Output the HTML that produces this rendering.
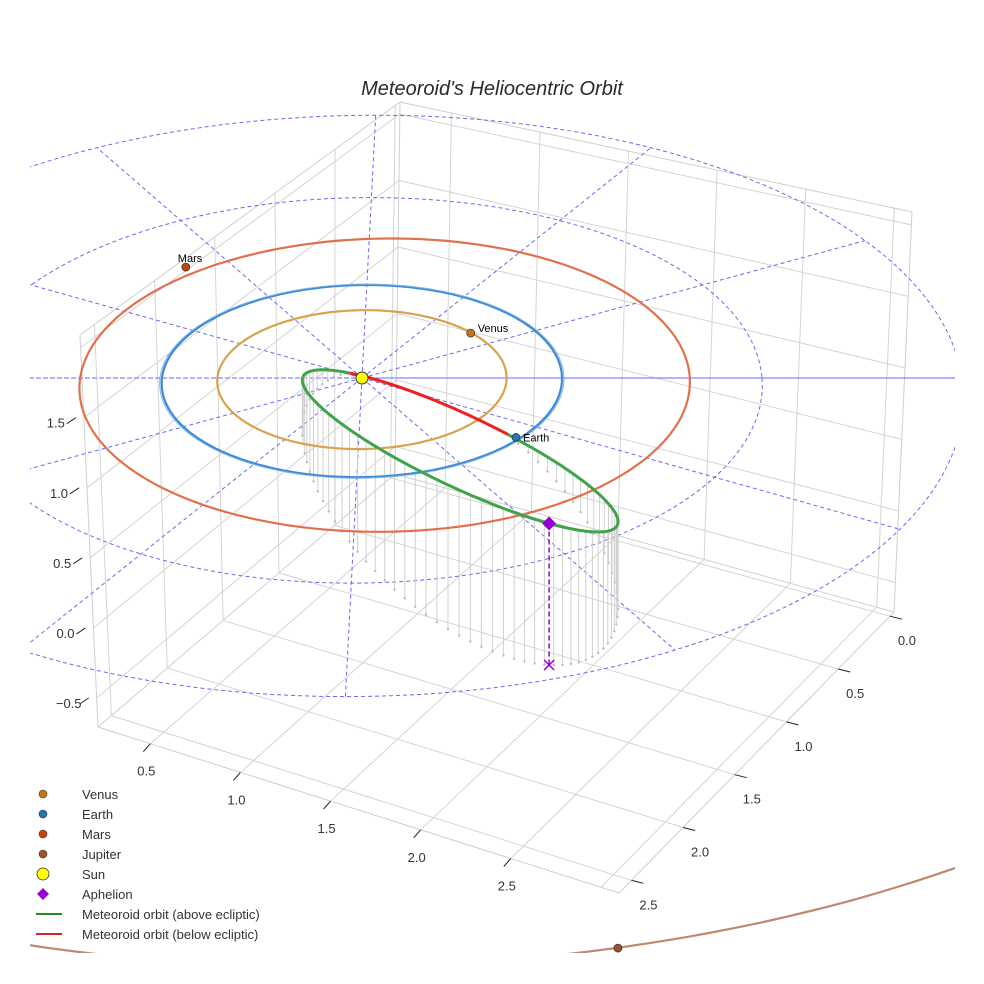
<!DOCTYPE html>
<html><head><meta charset="utf-8"><style>
html,body{margin:0;padding:0;background:#fff;}
svg{display:block;font-family:"Liberation Sans",sans-serif;}
</style></head><body>
<svg id="chart" width="984" height="984" viewBox="0 0 984 984" xmlns="http://www.w3.org/2000/svg">
<defs><clipPath id="clip"><rect x="30" y="0" width="925" height="953"/></clipPath></defs>
<rect width="984" height="984" fill="#fff"/>
<text x="492" y="95" text-anchor="middle" font-size="20" font-style="italic" fill="#2a2a2a">Meteoroid's Heliocentric Orbit</text>
<g id="box"></g>
<g id="ecl" clip-path="url(#clip)"></g>
<g id="legend"></g>
</svg>
<script>
// ---- data ----
const planetNames = ["Venus","Earth","Mars","Jupiter"];
const planetOrbitRadius = [0.723, 1.0, 1.524, 5.13];
const planetOrbitCenterX = [0, 0, 0.115, 0];
const planetX = [0.54, 0.77, -0.945, 1.2];
const planetY = [-0.475, 0.607, -1.2, 4.99];
const planetColors = ["#c47a12","#1f77b4","#c8440f","#a0522d"];
const orbitColors = ["#d8a24e","#3f8ad6","#e0714c","#bd8a70"];
const gridRadii = [1, 2, 3];
const gridAngles = [0,30,60,90,120,150,180,210,240,270,300,330];
const meteorCenter = [0.48, 0.72];
const meteorMajor = [0.775, 0.735];
const meteorMinor = [-0.065, 0.33];
const meteorInclDeg = 61;
const aphelionT = 50;
const uTicks = [0.0,0.5,1.0,1.5,2.0,2.5];
const wTicks = [0.5,1.0,1.5,2.0,2.5];
const wGrid = [0.5,1.0,1.5,2.0,2.5,3.0];
const zTicks = [-0.5,0.0,0.5,1.0,1.5];
const zGrid = [-0.5,0.0,0.5,1.0,1.5,2.0];
const legendLabels = ["Venus","Earth","Mars","Jupiter","Sun","Aphelion","Meteoroid orbit (above ecliptic)","Meteoroid orbit (below ecliptic)"];

const NS="http://www.w3.org/2000/svg";
function mk(tag, attrs, parent){const e=document.createElementNS(NS,tag);for(const k in attrs)e.setAttribute(k,attrs[k]);parent.appendChild(e);return e;}

// ---- box projection ----
const B=[395,474],L=[98,727],R=[894,612],F=[619,893];
const Bt=[400,102],Lt=[80,335],Rt=[912,212],Ft=[592,445];
const uMin=-0.04,uMax=2.62,wMin=0.21,wMax=3.1,zMin=-0.707,zMax=2.09;
function bil(P0,P1,P2,P3,s,t){return [P0[0]*(1-s)*(1-t)+P1[0]*s*(1-t)+P2[0]*(1-s)*t+P3[0]*s*t, P0[1]*(1-s)*(1-t)+P1[1]*s*(1-t)+P2[1]*(1-s)*t+P3[1]*s*t];}
function box(u,w,z){const s=(u-uMin)/(uMax-uMin),t=(w-wMin)/(wMax-wMin),h=(z-zMin)/(zMax-zMin);
 const a=bil(B,L,R,F,s,t),b=bil(Bt,Lt,Rt,Ft,s,t);return [a[0]+(b[0]-a[0])*h,a[1]+(b[1]-a[1])*h];}
const boxG=document.getElementById('box');
function bl(p,q,col,name,w){const e=mk('line',{x1:p[0].toFixed(1),y1:p[1].toFixed(1),x2:q[0].toFixed(1),y2:q[1].toFixed(1),stroke:col,'stroke-width':w||1},boxG);
 
 }
const gc="#d4d4d4";
uTicks.forEach(u=>bl(box(u,wMin,zMin),box(u,wMax,zMin),gc,'floor-gridline'));
wGrid.forEach(w=>bl(box(uMin,w,zMin),box(uMax,w,zMin),gc,'floor-gridline'));
uTicks.forEach(u=>bl(box(u,wMin,zMin),box(u,wMin,zMax),gc,'left-wall-gridline'));
zGrid.forEach(z=>bl(box(uMin,wMin,z),box(uMax,wMin,z),gc,'left-wall-gridline'));
wGrid.forEach(w=>bl(box(uMin,w,zMin),box(uMin,w,zMax),gc,'right-wall-gridline'));
zGrid.forEach(z=>bl(box(uMin,wMin,z),box(uMin,wMax,z),gc,'right-wall-gridline'));
[[box(uMin,wMin,zMin),box(uMin,wMin,zMax)],[box(uMax,wMin,zMin),box(uMax,wMin,zMax)],[box(uMin,wMax,zMin),box(uMin,wMax,zMax)],
 [box(uMin,wMin,zMax),box(uMax,wMin,zMax)],[box(uMin,wMin,zMax),box(uMin,wMax,zMax)],
 [box(uMax,wMin,zMin),box(uMax,wMax,zMin)],[box(uMin,wMax,zMin),box(uMax,wMax,zMin)],
 [box(uMin,wMin,zMin),box(uMax,wMin,zMin)],[box(uMin,wMin,zMin),box(uMin,wMax,zMin)]].forEach(e=>bl(e[0],e[1],"#cfcfcf",'box-edge'));
function tl(x,y,txt,name){const e=mk('text',{x:x.toFixed(1),y:y.toFixed(1),'text-anchor':'middle','font-size':13,fill:'#333'},boxG);e.textContent=txt;
 
 }
wTicks.forEach(w=>{const p=box(uMax,w,zMin);bl(p,[p[0]-7,p[1]+8],"#222",'left-axis-tick');tl(p[0]-4,p[1]+32,w.toFixed(1),'left-axis-tick-label');});
uTicks.forEach(u=>{const p=box(u,wMax,zMin);bl(p,[p[0]+12,p[1]+3],"#222",'right-axis-tick');tl(p[0]+17,p[1]+29,u.toFixed(1),'right-axis-tick-label');});
zTicks.forEach(z=>{const p=box(uMax,wMin,z);bl([p[0]-8,p[1]],[p[0]-17,p[1]+6],"#222",'z-axis-tick');tl(p[0]-28,p[1]+10,(z<0?"\u2212":"")+Math.abs(z).toFixed(1),'z-axis-tick-label');});

// ---- ecliptic projection ----
const eg=document.getElementById('ecl');
function ep(X,Y){const f=1/(1-0.032*Y);return [362+(200*X-5*Y)*f,378+96*Y*f];}
function pathFrom(pts){return pts.map((p,i)=>(i?'L':'M')+p[0].toFixed(1)+' '+p[1].toFixed(1)).join(' ');}
function circlePts(r,cx,minY){const a=[];for(let i=0;i<=360;i+=1){const t=i*Math.PI/180;const X=cx+r*Math.cos(t),Y=r*Math.sin(t);if(minY!==undefined&&Y<minY)continue;a.push(ep(X,Y));}return a;}
const dashCol="#6a6af0";
gridRadii.forEach(r=>{const e=mk('path',{d:pathFrom(circlePts(r,0)),fill:'none',stroke:dashCol,'stroke-width':1,'stroke-dasharray':'4,3'},eg);
 
 });
const rMax=gridRadii[gridRadii.length-1];
gridAngles.forEach(a=>{const t=a*Math.PI/180;const p=ep(0,0),q=ep(rMax*Math.cos(t),rMax*Math.sin(t));
 const e=mk('line',{x1:p[0],y1:p[1],x2:q[0].toFixed(1),y2:q[1].toFixed(1),stroke:dashCol,'stroke-width':1,'stroke-dasharray':'4,3'},eg);
 
 });
{const e=mk('line',{x1:30,y1:378,x2:955,y2:378,stroke:dashCol,'stroke-width':1,'stroke-dasharray':'4,3'},eg);
 
 }

// meteoroid orbit samples
const nx=planetX[1],ny=planetY[1],nl=Math.hypot(nx,ny);
const incl=Math.tan(meteorInclDeg*Math.PI/180), zPx=140;
function mpt(deg){const t=deg*Math.PI/180;return [meteorCenter[0]+Math.cos(t)*meteorMajor[0]+Math.sin(t)*meteorMinor[0], meteorCenter[1]+Math.cos(t)*meteorMajor[1]+Math.sin(t)*meteorMinor[1]];}
function mz(p){return -(p[0]*ny-p[1]*nx)/nl*incl;}
for(let d=-180;d<180;d+=4){const p=mpt(d),z=mz(p);if(z<=0.01)continue;const s=ep(p[0],p[1]);const L=z*zPx;
 const e=mk('line',{x1:s[0].toFixed(1),y1:s[1].toFixed(1),x2:s[0].toFixed(1),y2:(s[1]+L).toFixed(1),stroke:'#d0d0d0','stroke-width':1},eg);
 
 
 const c=mk('circle',{cx:s[0].toFixed(1),cy:(s[1]+L).toFixed(1),r:1.2,fill:'#bbb'},eg);
 
 }

// planet orbits
planetOrbitRadius.forEach((r,i)=>{const pts=circlePts(r,planetOrbitCenterX[i],planetNames[i]==="Jupiter"?1.5:undefined);
 const e=mk('path',{d:pathFrom(pts),fill:'none',stroke:orbitColors[i],'stroke-width':2.2},eg);
 
 });
{const e=mk('path',{d:pathFrom(circlePts(1.01,0)),fill:'none',stroke:'#7ab6e0','stroke-width':1},eg);
 
 }

// meteoroid orbit: green/red by sign of height
let seg=[],segSign=null;
function flush(){if(seg.length>1){const e=mk('path',{d:pathFrom(seg),fill:'none',stroke:segSign>0?'#3fa34a':'#ee2020','stroke-width':3},eg);
 
 }}
for(let d=-180;d<=180;d+=1){const p=mpt(d),sg=mz(p)>=0?1:-1,s=ep(p[0],p[1]);
 if(segSign!==null&&sg!==segSign){seg.push(s);flush();seg=[s];}else seg.push(s);segSign=sg;}
flush();

{const p=mpt(aphelionT),s=ep(p[0],p[1]),L=mz(p)*zPx;
 const dl=mk('line',{x1:s[0],y1:s[1],x2:s[0],y2:s[1]+L,stroke:'#9400d3','stroke-width':1.5,'stroke-dasharray':'5,3'},eg);
 
 
 const x=mk('path',{d:`M${s[0]-5} ${s[1]+L-5}L${s[0]+5} ${s[1]+L+5}M${s[0]-5} ${s[1]+L+5}L${s[0]+5} ${s[1]+L-5}`,stroke:'#9400d3','stroke-width':1.5},eg);
 
 
 const dm=mk('path',{d:`M${s[0]} ${s[1]-7}L${s[0]+7} ${s[1]}L${s[0]} ${s[1]+7}L${s[0]-7} ${s[1]}Z`,fill:'#9400d3'},eg);
 
 }

{const s=ep(0,0);const c=mk('circle',{cx:s[0],cy:s[1],r:6,fill:'#ffff00',stroke:'#333','stroke-width':1},eg);
 
 }

planetNames.forEach((n,i)=>{const s=ep(planetX[i],planetY[i]);
 const c=mk('circle',{cx:s[0].toFixed(1),cy:s[1].toFixed(1),r:4,fill:planetColors[i],stroke:'#333','stroke-width':0.7},eg);
 
 
 if(n!=="Jupiter"){const t=mk('text',{x:(n==="Mars"?s[0]-8:s[0]+7).toFixed(1),y:(n==="Mars"?s[1]-5:s[1]+(n==="Earth"?4:-1)).toFixed(1),'font-size':11,fill:'#000'},eg);t.textContent=n;
 
 }});

const lg=document.getElementById('legend');
const legendMarkers=["#c47a12","#1f77b4","#c8440f","#a0522d","sun","diamond","#228b22","#dd2222"];
legendLabels.forEach((lab,i)=>{const y=794+i*20;const g=mk('g',{},lg);
 
 
 const m=legendMarkers[i];
 if(m==="sun")mk('circle',{cx:43,cy:y,r:6,fill:'#ffff00',stroke:'#333','stroke-width':0.8},g);
 else if(m==="diamond")mk('path',{d:`M43 ${y-6}L49 ${y}L43 ${y+6}L37 ${y}Z`,fill:'#9400d3'},g);
 else if(i>=6)mk('line',{x1:36,y1:y,x2:62,y2:y,stroke:m,'stroke-width':2},g);
 else mk('circle',{cx:43,cy:y,r:4,fill:m,stroke:'#333','stroke-width':0.6},g);
 const t=mk('text',{x:82,y:y+5,'font-size':13,fill:'#333'},g);t.textContent=lab;});
</script>
</body></html>
